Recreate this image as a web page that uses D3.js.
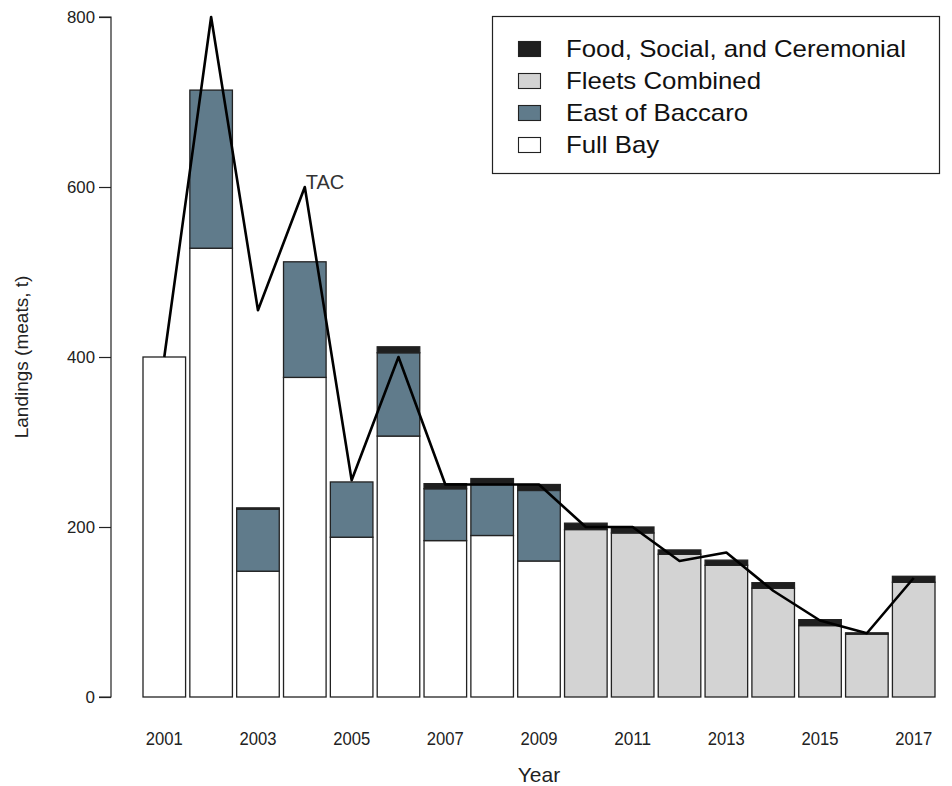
<!DOCTYPE html>
<html>
<head>
<meta charset="utf-8">
<script src="https://cdn.jsdelivr.net/npm/d3@7"></script>
<style>
  html, body { margin: 0; padding: 0; background: #fff; }
  svg { display: block; font-family: "Liberation Sans", Arial, sans-serif; }
</style>
</head>
<body>
<svg id="chart" width="952" height="786"></svg>
<script>
// Scallop landings (meat weight, t) by fishing fleet, with the total allowable catch
const years = [2001, 2002, 2003, 2004, 2005, 2006, 2007, 2008, 2009,
               2010, 2011, 2012, 2013, 2014, 2015, 2016, 2017];
const fullBay        = [400, 528, 148, 376, 188, 307, 184, 190, 160, 0, 0, 0, 0, 0, 0, 0, 0];
const eastOfBaccaro  = [0, 186, 73, 136, 65, 98, 61, 60, 83, 0, 0, 0, 0, 0, 0, 0, 0];
const fleetsCombined = [0, 0, 0, 0, 0, 0, 0, 0, 0, 197, 193, 168, 155, 128, 84, 74, 135];
const foodSocialCer  = [0, 0, 1.5, 0, 0, 7, 6, 7, 7, 7.5, 7, 5, 6, 6.5, 7, 1.5, 7];
const tac            = [400, 800, 455, 600, 255, 400, 250, 250, 250,
                        200, 200, 160, 170, 125, 90, 75, 140];
const yTicks = [0, 200, 400, 600, 800];
const xLabelYears = [2001, 2003, 2005, 2007, 2009, 2011, 2013, 2015, 2017];

const seriesKeys   = ["fullBay", "eastOfBaccaro", "fleetsCombined", "foodSocialCer"];
const seriesNames  = {
  foodSocialCer: "Food, Social, and Ceremonial",
  fleetsCombined: "Fleets Combined",
  eastOfBaccaro: "East of Baccaro",
  fullBay: "Full Bay"
};
const seriesColors = {
  fullBay: "#ffffff",
  eastOfBaccaro: "#607b8b",
  fleetsCombined: "#d3d3d3",
  foodSocialCer: "#1f1f1f"
};

const rows = years.map((yr, i) => ({
  year: yr,
  fullBay: fullBay[i],
  eastOfBaccaro: eastOfBaccaro[i],
  fleetsCombined: fleetsCombined[i],
  foodSocialCer: foodSocialCer[i],
  tac: tac[i]
}));

const svg = d3.select("#chart");

const x = d3.scaleBand()
  .domain(years)
  .range([143, 935])
  .paddingInner(0.1 / 1.1)
  .paddingOuter(0);

const y = d3.scaleLinear().domain([0, 800]).range([697, 17]);

// stacked bars
const stacked = d3.stack().keys(seriesKeys)(rows);

svg.append("g").selectAll("g")
  .data(stacked)
  .join("g")
    .attr("fill", d => seriesColors[d.key])
  .selectAll("rect")
  .data(d => d.filter(s => s[1] - s[0] > 0))
  .join("rect")
    .attr("x", d => x(d.data.year))
    .attr("width", x.bandwidth())
    .attr("y", d => y(d[1]))
    .attr("height", d => y(d[0]) - y(d[1]))
    .attr("stroke", "#222")
    .attr("stroke-width", 1.3);

// TAC line
const line = d3.line()
  .x(d => x(d.year) + x.bandwidth() / 2)
  .y(d => y(d.tac));

svg.append("path")
  .datum(rows)
  .attr("d", line)
  .attr("fill", "none")
  .attr("stroke", "#000")
  .attr("stroke-width", 2.6)
  .attr("stroke-linejoin", "round");

const peak = rows[3];
svg.append("text")
  .attr("x", x(peak.year) + x.bandwidth() / 2 + 1)
  .attr("y", y(peak.tac) + 2)
  .attr("font-size", 20)
  .attr("fill", "#333")
  .text("TAC");

// y axis
const yAxis = d3.axisLeft(y).tickValues(yTicks).tickSize(12).tickPadding(4);
const gy = svg.append("g").attr("transform", "translate(111,0)").call(yAxis);
gy.select(".domain").attr("d", `M-12,${y(800)}H0V${y(0)}H-12`).attr("stroke", "#222").attr("stroke-width", 1.2);
gy.selectAll(".tick line").attr("stroke", "#222").attr("stroke-width", 1.2);
gy.selectAll(".tick text")
  .attr("font-family", "'Liberation Sans', Arial, sans-serif")
  .attr("font-size", 17)
  .attr("textLength", 28)
  .attr("lengthAdjust", "spacingAndGlyphs")
  .attr("fill", "#222");
gy.selectAll(".tick text").filter(d => d === 0).attr("textLength", null);

// year labels
svg.append("g").selectAll("text")
  .data(xLabelYears)
  .join("text")
    .attr("x", d => x(d) + x.bandwidth() / 2)
    .attr("y", 745)
    .attr("text-anchor", "middle")
    .attr("font-size", 18)
    .attr("textLength", 37)
    .attr("lengthAdjust", "spacingAndGlyphs")
    .attr("fill", "#222")
    .text(d => d);

// axis titles
svg.append("text")
  .attr("x", 539)
  .attr("y", 782)
  .attr("text-anchor", "middle")
  .attr("font-size", 21)
  .attr("fill", "#222")
  .text("Year");

svg.append("text")
  .attr("transform", "translate(28,357) rotate(-90)")
  .attr("text-anchor", "middle")
  .attr("font-size", 19)
  .attr("fill", "#222")
  .text("Landings (meats, t)");

// legend
const legendKeys = ["foodSocialCer", "fleetsCombined", "eastOfBaccaro", "fullBay"];
const legend = svg.append("g");
legend.append("rect")
  .attr("x", 492.5).attr("y", 16.5)
  .attr("width", 447).attr("height", 157)
  .attr("fill", "#fff")
  .attr("stroke", "#222").attr("stroke-width", 1.2);

const items = legend.selectAll("g.item")
  .data(legendKeys)
  .join("g")
    .attr("class", "item")
    .attr("transform", (d, i) => `translate(0,${49 + i * 32})`);

items.append("rect")
  .attr("x", 518.5).attr("y", -7.5)
  .attr("width", 22).attr("height", 15)
  .attr("fill", d => seriesColors[d])
  .attr("stroke", "#222").attr("stroke-width", 1.1);

items.append("text")
  .attr("x", 566)
  .attr("y", 8)
  .attr("font-size", 24)
  .attr("fill", "#111")
  .text(d => seriesNames[d])
  .each(function () {
    // legend lettering runs a little wider than its height suggests
    const w = this.getComputedTextLength();
    d3.select(this)
      .attr("textLength", w * 1.075)
      .attr("lengthAdjust", "spacingAndGlyphs");
  });
</script>
</body>
</html>
